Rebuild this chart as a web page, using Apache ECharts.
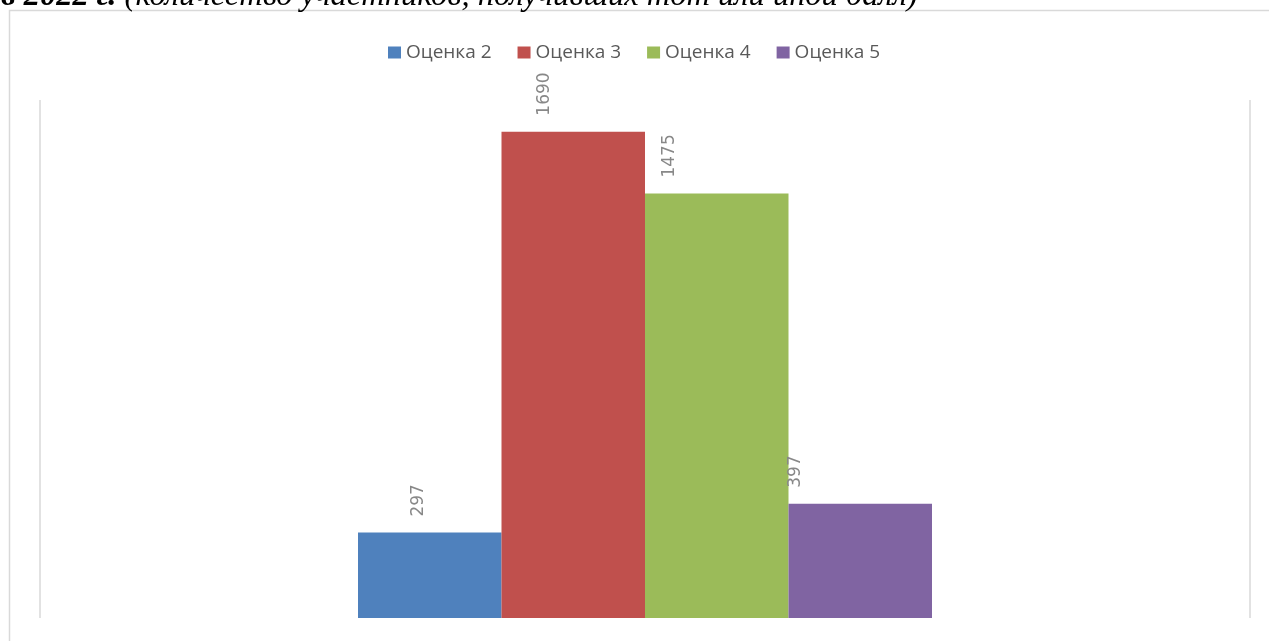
<!DOCTYPE html>
<html>
<head>
<meta charset="utf-8">
<script src="https://cdn.jsdelivr.net/npm/echarts@6/dist/echarts.min.js"></script>
<style>
html,body{margin:0;padding:0;background:#fff;}
#chart{width:1269px;height:641px;}
</style>
</head>
<body>
<div id="chart"></div>
<script>
// данные
var categories = [''];
var seriesNames = ['Оценка 2', 'Оценка 3', 'Оценка 4', 'Оценка 5'];
var seriesValues = [297, 1690, 1475, 397];

var colors = ['#4f81bd', '#c0504d', '#9bbb59', '#8064a2'];
// сдвиг подписей влево (как в исходнике)
var labelShift = [11, 29, 47, 65];

var series = [];
for (var i = 0; i < seriesNames.length; i++) {
	series.push({
		name: seriesNames[i],
		type: 'bar',
		barWidth: 143.5,
		barGap: '0%',
		data: [seriesValues[i]],
		itemStyle: {color: colors[i]},
		label: {
			show: true,
			position: 'top',
			rotate: 90,
			align: 'left',
			verticalAlign: 'middle',
			distance: 16,
			offset: [0, -labelShift[i]],
			color: '#888888',
			fontFamily: 'DejaVu Sans',
			fontSize: 17
		}
	});
}

var chart = echarts.init(document.getElementById('chart'));
chart.setOption({
	animation: false,
	color: colors,
	graphic: [
		{
			type: 'rect',
			shape: {x: 9.5, y: 10.5, width: 1300, height: 700},
			style: {fill: null, stroke: '#d9d9d9', lineWidth: 1.5},
			silent: true
		},
		{
			type: 'text',
			x: 1,
			y: 13,
			style: {
				text: '{b|в 2022 г.} (количество участников, получивших тот или иной балл)',
				fontFamily: 'Liberation Serif',
				fontStyle: 'italic',
				fontSize: 32.5,
				fill: '#000',
				verticalAlign: 'bottom',
				rich: {
					b: {fontWeight: 'bold', fontStyle: 'italic', fontFamily: 'Liberation Serif', fontSize: 32.5}
				}
			}
		}
	],
	legend: {
		left: 383,
		top: 38,
		itemWidth: 13,
		itemHeight: 12,
		itemGap: 26,
		icon: 'rect',
		textStyle: {color: '#595959', fontFamily: 'Open Sans', fontSize: 19},
		data: seriesNames
	},
	grid: {left: 40, right: 19, top: 100, bottom: 23},
	xAxis: {
		type: 'category',
		data: categories,
		axisLine: {show: false},
		axisTick: {show: false},
		axisLabel: {show: false},
		splitLine: {show: true, lineStyle: {color: '#d9d9d9', width: 1.5}}
	},
	yAxis: {
		type: 'value',
		min: 0,
		max: 1800,
		show: false
	},
	series: series
});
</script>
</body>
</html>
